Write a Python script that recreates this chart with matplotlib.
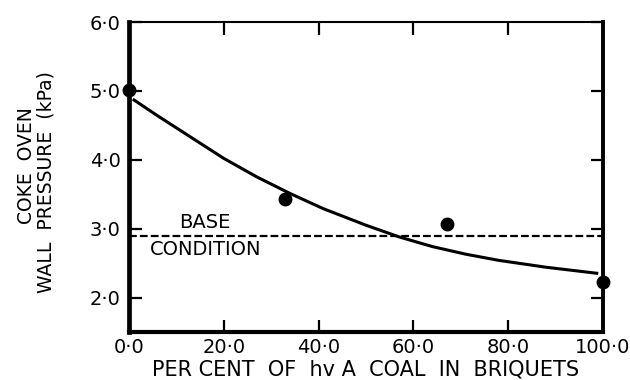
import matplotlib
matplotlib.use("Agg")
import matplotlib.pyplot as plt
from matplotlib.ticker import FuncFormatter

# measured points: per cent hvA coal vs wall pressure (kPa)
pct_points = [0.0, 33.0, 67.0, 100.0]
pressure_points = [5.02, 3.43, 3.07, 2.23]

curve_pct = [0.8, 6, 13, 20, 27, 34, 41, 50, 57, 64, 71, 78, 88, 99]
curve_pressure = [4.88, 4.64, 4.33, 4.02, 3.75, 3.51, 3.29, 3.05, 2.88,
                  2.74, 2.63, 2.54, 2.44, 2.35]

base_pressure = 2.9
x_ticks = [0, 20, 40, 60, 80, 100]
y_ticks = [2, 3, 4, 5, 6]

plt.rcParams['font.family'] = ['DejaVu Sans']

fig = plt.figure(figsize=(6.3, 3.8), dpi=100)
ax = fig.add_axes([129 / 630, 1 - 332 / 380, 474 / 630, 310 / 380])

ax.plot(curve_pct, curve_pressure, color='black', lw=2.2, solid_capstyle='butt')
ax.axhline(base_pressure, color='black', lw=1.6, linestyle=(0, (3.5, 1.4)))
ax.plot(pct_points, pressure_points, 'o', color='black', markersize=9,
        clip_on=False, zorder=5)

ax.text(16, 2.95, 'BASE', fontsize=14, ha='center', va='bottom')
ax.text(16.2, 2.84, 'CONDITION', fontsize=14, ha='center', va='top')

ax.set_xlim(0, 100)
ax.set_ylim(1.5, 6.0)
ax.set_xticks(x_ticks)
ax.set_yticks(y_ticks)

dot_fmt = FuncFormatter(lambda v, pos: f'{v:.1f}'.replace('.', '\u00b7'))
ax.xaxis.set_major_formatter(dot_fmt)
ax.yaxis.set_major_formatter(dot_fmt)

ax.tick_params(axis='both', direction='in', length=9, width=1.6,
               labelsize=14, top=True, right=True)
ax.tick_params(axis='x', pad=4)
ax.tick_params(axis='y', pad=6)

ax.spines['left'].set_linewidth(3.4)
ax.spines['bottom'].set_linewidth(3.0)
ax.spines['right'].set_linewidth(2.8)
ax.spines['top'].set_linewidth(1.5)

ax.set_xlabel('PER CENT  OF  hv A  COAL  IN  BRIQUETS', fontsize=15,
              labelpad=2)

fig.text(27 / 630, 1 - 166 / 380, 'COKE  OVEN', rotation=90, fontsize=13.5,
         ha='center', va='center')
fig.text(46 / 630, 1 - 182 / 380, 'WALL  PRESSURE  (kPa)', rotation=90,
         fontsize=13.5, ha='center', va='center')

fig.savefig('out.png', dpi=100)
